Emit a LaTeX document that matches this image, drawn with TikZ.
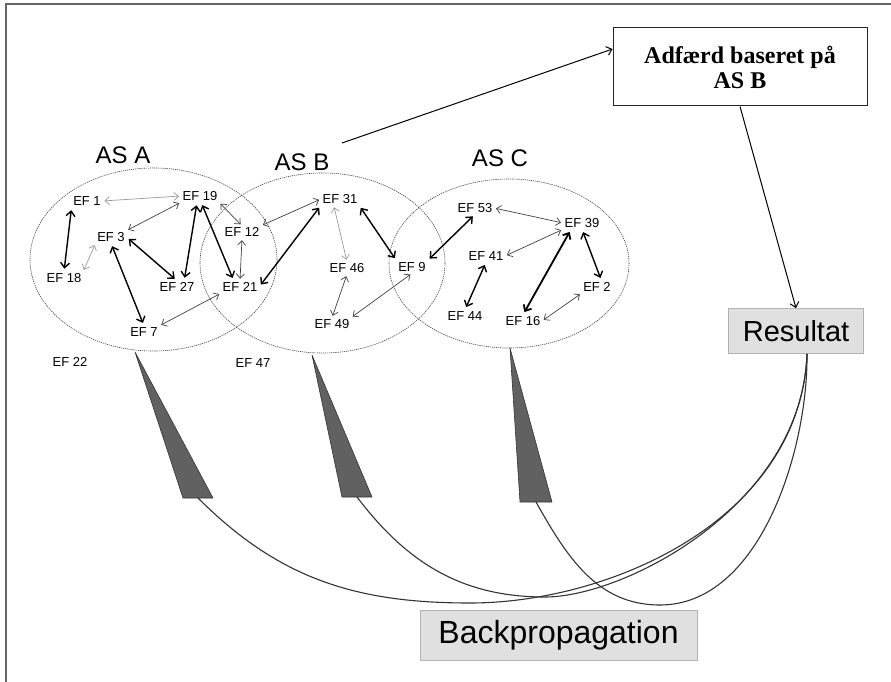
\documentclass[tikz,border=0pt]{standalone}
\usepackage{fontspec}
\setmainfont{Liberation Sans}
\newfontfamily\boxserif{Liberation Serif}
\usetikzlibrary{arrows.meta}

\tikzset{
	efbox/.style={font=\fontsize{13}{13}\selectfont, inner sep=1.5pt},
	asname/.style={font=\fontsize{24}{24}\selectfont, inner sep=0pt},
	asring/.style={draw=black!75, line width=0.6pt, dash pattern=on 1.2pt off 0.9pt},
	linkfaint/.style={{Straight Barb[length=4.5pt,width=8pt]}-{Straight Barb[length=4.5pt,width=8pt]}, draw=black!40, line width=0.7pt, shorten <=2pt, shorten >=2pt},
	linkmid/.style={{Straight Barb[length=4.5pt,width=8pt]}-{Straight Barb[length=4.5pt,width=8pt]}, draw=black!75, line width=0.7pt, shorten <=2pt, shorten >=2pt},
	linkbold/.style={{Straight Barb[length=5pt,width=9pt]}-{Straight Barb[length=5pt,width=9pt]}, draw=black, line width=1.4pt, shorten <=3pt, shorten >=3pt},
	wedge/.style={fill=black!62, draw=black!80, line width=0.6pt, line join=round},
	feedback/.style={draw=black!80, line width=1.1pt},
	pointer/.style={-{Straight Barb[length=5pt,width=9pt]}, draw=black, line width=1pt},
	greybox/.style={fill=black!12, draw=black!30, line width=0.6pt, inner sep=0pt}
}

\begin{document}
\begin{tikzpicture}[x=1pt,y=-1pt]
	\useasboundingbox (0,0) rectangle (891,682);
	% frame
	\draw[black!60,line width=1.2pt] (891,4) -- (6,4) -- (6,682);

	% the three AS areas
	\draw[asring] (153.5,259.5) ellipse [x radius=123.5pt, y radius=91.5pt];
	\draw[asring] (322.5,263) ellipse [x radius=122.5pt, y radius=90pt];
	\draw[asring] (509,263.5) ellipse [x radius=120pt, y radius=84.5pt];
	\node[asname] (asa) at (123,155) {AS A};
	\node[asname] (asb) at (302,162) {AS B};
	\node[asname] (asc) at (500,158) {AS C};

	% EF nodes
	\foreach \n/\x/\y in {1/87/201, 19/200/196, 3/111/237, 18/64/278, 27/177/287,
			7/144/332, 22/70/362, 12/242/232, 21/240/287, 31/340/199, 46/347/268,
			49/332/324, 47/253/363, 9/412/267, 53/475/208, 39/582/223, 41/486/256,
			2/597/287, 44/465/316, 16/523/321}
		\node[efbox] (ef\n) at (\x,\y) {EF \n};

	% links
	\foreach \a/\b in {ef1.east/ef19.west, ef18.north east/ef3.south west,
			ef31.-135/ef46.north}
		\draw[linkfaint] (\a) -- (\b);
	\foreach \a/\b in {ef3.north east/ef19.south west, ef19.south east/ef12.north,
			ef12.south/ef21.north, ef7.north east/ef21.south west,
			ef12.north east/ef31.west, ef46.south/ef49.north,
			ef49.north east/ef9.south, ef53.east/ef39.west,
			ef39.south west/ef41.east, ef16.east/ef2.south west}
		\draw[linkmid] (\a) -- (\b);
	\foreach \a/\b in {ef1.south west/ef18.north, ef3.east/ef27.north,
			ef3.south/ef7.north, ef19.-115/ef27.41, ef19.-80/ef21.135,
			ef21.east/ef31.south west, ef31.south east/ef9.north west,
			ef9.north east/ef53.south, ef39.south/ef2.54, ef41.south/ef44.north}
		\draw[linkbold] (\a) -- (\b);
	\draw[linkbold,line width=1.8pt] (ef39.-150) -- (ef16.north);

	% boxes
	\node[draw=black!85, line width=1pt, minimum width=254pt, minimum height=78pt,
		align=center, font=\boxserif\bfseries\fontsize{24}{25}\selectfont]
		(behavior) at (740,67) {Adfærd baseret på\\AS B};
	\node[greybox, minimum width=135pt, minimum height=45pt,
		font=\fontsize{29}{29}\selectfont] (res) at (796,331) {Resultat};
	\node[greybox, minimum width=277pt, minimum height=50pt,
		font=\fontsize{32}{32}\selectfont] (backprop) at (558.5,635) {Backpropagation};

	\coordinate (asbout) at (342,143);
	\draw[pointer] (asbout) -- ([yshift=18pt]behavior.west);
	\draw[pointer] (behavior.south) -- (res.north);

	% wedges under the AS areas
	\filldraw[wedge] (135,352) -- (183,498) -- (213,498) -- cycle;
	\filldraw[wedge] (312,355) -- (342,497) -- (372,497) -- cycle;
	\filldraw[wedge] (510,348) -- (520,502) -- (552,502) -- cycle;
	\coordinate (footA) at (198,498);
	\coordinate (footB) at (357,497);
	\coordinate (footC) at (536,502);
	\coordinate (back) at ([xshift=11pt]res.south);

	% feedback curves
	\draw[feedback] (footA) .. controls (279,579) and (356,603) .. (470,603)
		.. controls (610,603) and (800,520) .. (back);
	\draw[feedback] (footB) .. controls (407,563) and (462,597) .. (545,597)
		.. controls (625,597) and (802,505) .. (back);
	\draw[feedback] (footC) .. controls (567,557) and (597,605) .. (660,605)
		.. controls (760,605) and (808,450) .. (back);
\end{tikzpicture}
\end{document}
